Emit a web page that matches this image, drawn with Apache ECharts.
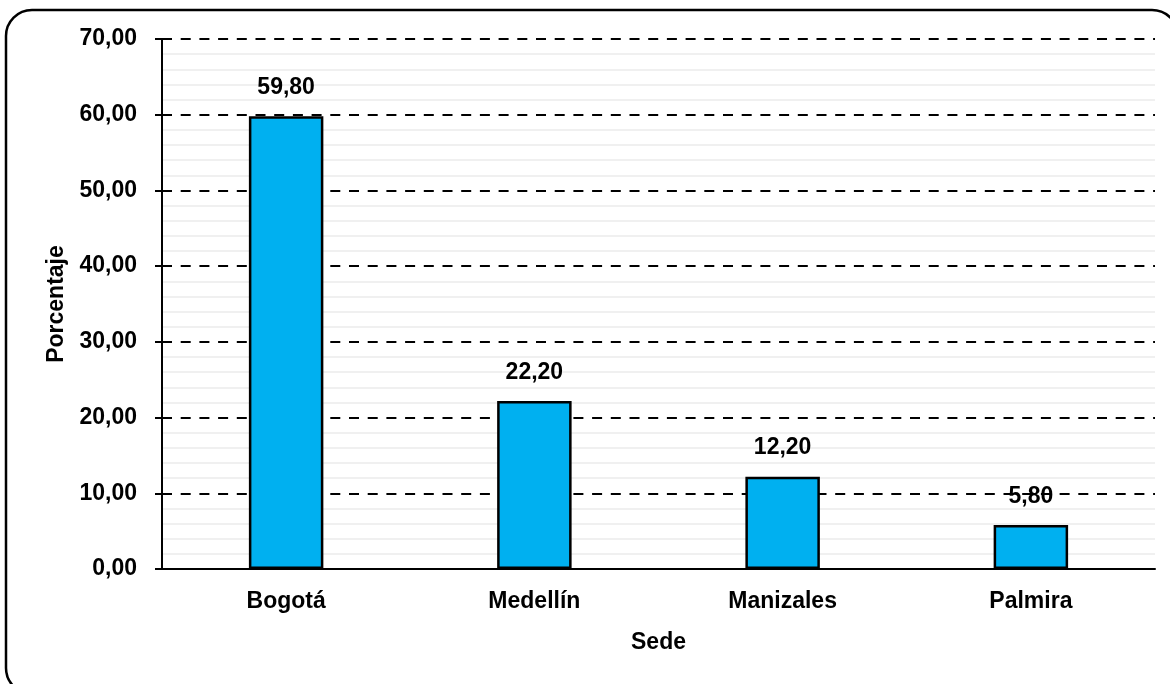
<!DOCTYPE html>
<html>
<head>
<meta charset="utf-8">
<script src="https://cdn.jsdelivr.net/npm/echarts@6/dist/echarts.min.js"></script>
<style>
  html, body { margin: 0; padding: 0; background: #fff; }
  #chart { width: 1170px; height: 684px; }
</style>
</head>
<body>
<div id="chart"></div>
<script>
  const sedes = ['Bogotá', 'Medellín', 'Manizales', 'Palmira'];
  const porcentajes = [59.8, 22.2, 12.2, 5.8];
  const yTicks = [0, 10, 20, 30, 40, 50, 60, 70];

  const fmt = (v) => Number(v).toFixed(2).replace('.', ',');
  const font = "'Liberation Sans', Arial, sans-serif";
  const fs = 23;

  const chart = echarts.init(document.getElementById('chart'));

  chart.setOption({
    animation: false,
    textStyle: { fontFamily: font },
    graphic: [
      {
        type: 'rect',
        shape: { x: 6, y: 10, width: 1172, height: 684, r: 26 },
        style: { fill: 'none', stroke: '#000', lineWidth: 2.5 },
        z: 100,
      },
    ],
    grid: {
      left: 162,
      right: 15,
      top: 39,
      bottom: 115,
    },
    xAxis: {
      type: 'category',
      data: sedes,
      name: 'Sede',
      nameLocation: 'middle',
      nameGap: 62,
      nameTextStyle: { color: '#000', fontSize: fs, fontWeight: 'bold', fontFamily: font },
      axisLine: { lineStyle: { color: '#000', width: 2 } },
      axisTick: { show: false },
      axisLabel: { color: '#000', fontSize: fs, fontWeight: 'bold', margin: 21, fontFamily: font },
    },
    yAxis: {
      type: 'value',
      min: yTicks[0],
      max: yTicks[yTicks.length - 1],
      interval: 10,
      name: 'Porcentaje',
      nameLocation: 'middle',
      nameGap: 92,
      nameTextStyle: { color: '#000', fontSize: fs, fontWeight: 'bold', fontFamily: font },
      axisLine: { show: true, lineStyle: { color: '#000', width: 2 } },
      axisTick: { show: true, length: 7, lineStyle: { color: '#000', width: 2 } },
      axisLabel: {
        color: '#000',
        fontSize: fs,
        fontWeight: 'bold',
        margin: 25,
        fontFamily: font,
        formatter: fmt,
      },
      splitLine: {
        lineStyle: { color: '#000', width: 2, type: [10, 8.7] },
      },
      minorTick: { show: false, splitNumber: 5 },
      minorSplitLine: {
        show: true,
        lineStyle: { color: '#ececec', width: 1.5 },
      },
    },
    series: [
      {
        type: 'bar',
        data: porcentajes,
        barWidth: '30%',
        itemStyle: {
          color: '#00B0F0',
          borderColor: '#000',
          borderWidth: 2.5,
        },
        label: {
          show: true,
          position: 'top',
          distance: 17,
          color: '#000',
          fontSize: fs,
          fontWeight: 'bold',
          fontFamily: font,
          formatter: (p) => fmt(p.value),
        },
      },
    ],
  });

  window.addEventListener('resize', () => chart.resize());
</script>
</body>
</html>
